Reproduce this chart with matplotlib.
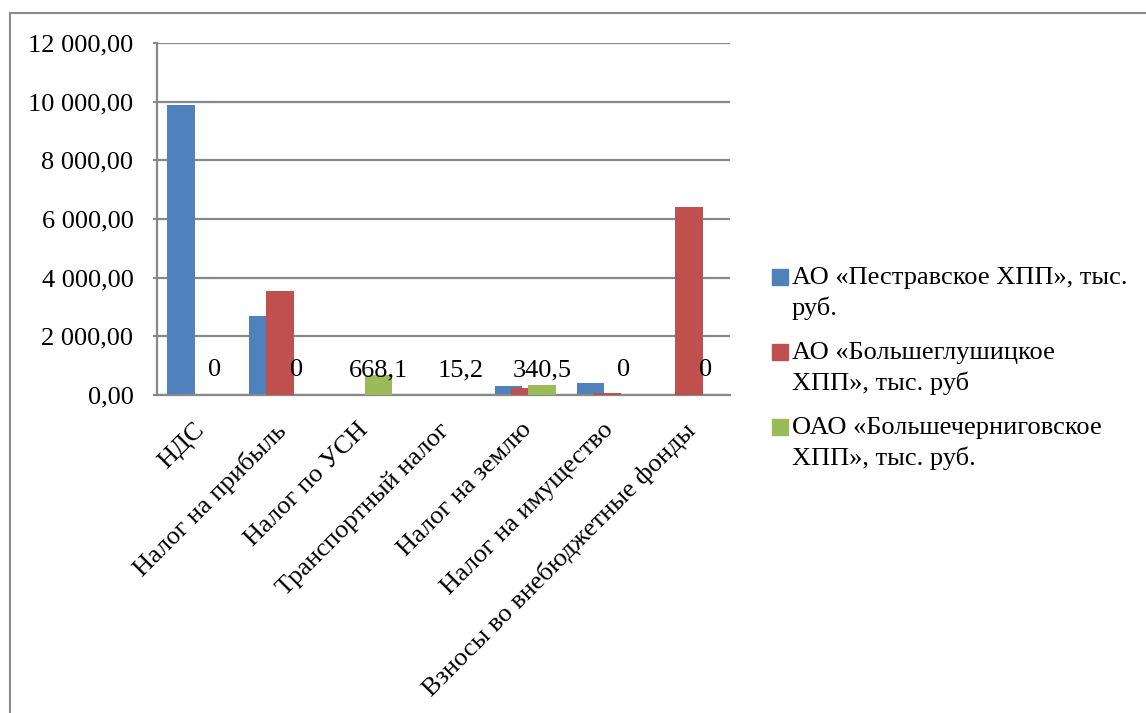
import matplotlib
matplotlib.use("Agg")
import matplotlib.pyplot as plt
from matplotlib.patches import Rectangle
from matplotlib.ticker import FuncFormatter, MultipleLocator
from matplotlib.transforms import ScaledTranslation
import numpy as np

plt.rcParams["font.family"] = ["Liberation Serif", "DejaVu Serif"]

# -----------------------------
# Data
# -----------------------------
categories = [
    "НДС",
    "Налог на прибыль",
    "Налог по УСН",
    "Транспортный налог",
    "Налог на землю",
    "Налог на имущество",
    "Взносы во внебюджетные фонды",
]
pestravskoe = [9900, 2700, 0, 0, 320, 410, 0]
bolsheglushitskoe = [0, 3550, 0, 0, 250, 70, 6420]
bolshechernigovskoe = [0, 0, 668.1, 15.2, 340.5, 0, 0]

series_names = [
    "АО «Пестравское ХПП», тыс.\nруб.",
    "АО «Большеглушицкое\nХПП», тыс. руб",
    "ОАО «Большечерниговское\nХПП», тыс. руб.",
]
series_values = [pestravskoe, bolsheglushitskoe, bolshechernigovskoe]
colors = ["#4F81BD", "#C0504D", "#9BBB59"]

# -----------------------------
# Layout
# -----------------------------
FS = 19
bar_w = 0.34
step = 0.205
label_y = 850
grid_c = "#888888"


def fmt_y(v, pos):
    return f"{v:,.2f}".replace(",", " ").replace(".", ",")


def fmt_label(v):
    return f"{v:g}".replace(".", ",")


fig = plt.figure(figsize=(11.46, 7.13), dpi=100)
ax = fig.add_axes([157 / 1146, 1 - 395 / 713, (730 - 157) / 1146, (395 - 43) / 713])

x = np.arange(len(categories)) + 0.5
for j, (vals, c) in enumerate(zip(series_values, colors)):
    ax.bar(x + (j - 1) * step, vals, width=bar_w, color=c, zorder=2 + j)

# data labels for the third series
for xi, v in zip(x + step, bolshechernigovskoe):
    ax.text(xi, label_y, fmt_label(v), ha="center", va="center", fontsize=FS, zorder=10)

ax.set_xlim(0, len(categories))
ax.set_ylim(0, 12000)
ax.yaxis.set_major_locator(MultipleLocator(2000))
ax.yaxis.set_major_formatter(FuncFormatter(fmt_y))
ax.grid(axis="y", color=grid_c, lw=1.6, zorder=0)
ax.set_axisbelow(True)

ax.set_xticks(x)
ax.set_xticklabels(categories, rotation=45, ha="right", rotation_mode="anchor", fontsize=FS)
ax.tick_params(axis="x", length=0, pad=10)
ax.tick_params(axis="y", length=3, color=grid_c, width=1.5, labelsize=FS, pad=14)

# nudge the rotated labels a little down-left, as in the original
shift = ScaledTranslation(-5 / 100, -10 / 100, fig.dpi_scale_trans)
for lbl in ax.get_xticklabels():
    lbl.set_transform(lbl.get_transform() + shift)

for s in ["top", "right"]:
    ax.spines[s].set_visible(False)
for s in ["left", "bottom"]:
    ax.spines[s].set_color(grid_c)
    ax.spines[s].set_linewidth(1.6)

# legend drawn by hand so the marker sits on the first text line
leg_x = 772 / 1146
leg_y = [277, 352, 427]
sq = 16
for name, c, yy in zip(series_names, colors, leg_y):
    fig.add_artist(Rectangle((leg_x, 1 - (yy + sq / 2) / 713), sq / 1146, sq / 713,
                             transform=fig.transFigure, color=c))
    fig.text(792 / 1146, 1 - (yy - 10) / 713, name, fontsize=FS, va="top", ha="left",
             linespacing=1.4)

# outer chart frame (cut off at right and bottom)
fig.add_artist(Rectangle((10 / 1146, -0.5), 2, (713 - 13) / 713 + 0.5,
                         transform=fig.transFigure, fill=False, ec="#8a8a8a", lw=1.5))

fig.savefig("out.png", dpi=100)
